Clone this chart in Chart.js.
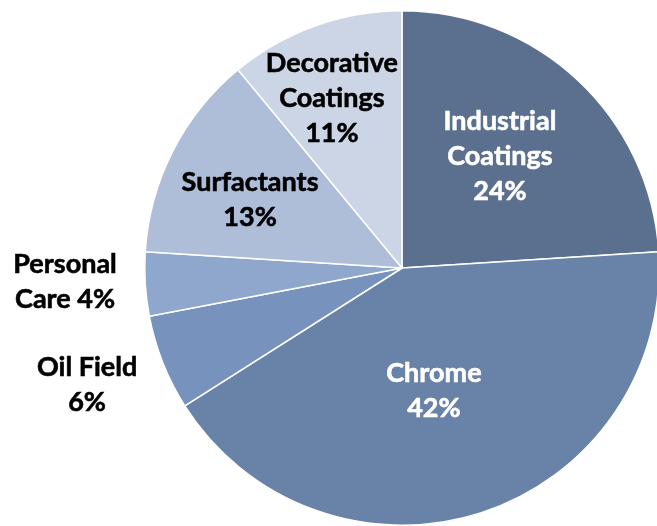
<!DOCTYPE html>
<html>
<head>
<meta charset="utf-8">
<title>Market share pie</title>
<script src="https://cdn.jsdelivr.net/npm/chart.js@4.4.1/dist/chart.umd.min.js"></script>
<style>
    html, body { margin: 0; padding: 0; background: #fff; overflow: hidden; }
    #wrap { width: 665px; height: 526px; }
</style>
</head>
<body>
<div id="wrap"><canvas id="pieChart" width="665" height="526"></canvas></div>
<script>
// Segments, clockwise from 12 o'clock
const categories = ['Industrial\nCoatings', 'Chrome', 'Oil Field', 'Personal\nCare', 'Surfactants', 'Decorative\nCoatings'];
const shares = [24, 42, 6, 4, 13, 11];
const sliceColors = ['#5b6f8e', '#6982a8', '#7692bd', '#8fa7cd', '#aebdd8', '#cbd5e6'];
const labelColors = ['#ffffff', '#ffffff', '#000000', '#000000', '#000000', '#000000'];

// label placement: fraction of radius along the slice mid-angle, plus a small angle nudge (deg)
const labelDist = [0.578, 0.492, 1.306, 1.311, 0.647, 0.715];
const labelNudge = [-2.0, 3.4, 1.2, 1.2, -2.9, -2.6];
// percent goes on the last name line instead of its own line
const inlinePct = [false, false, false, true, false, false];

const pieLabels = {
    id: 'pieLabels',
    afterDatasetsDraw(chart) {
        const ctx = chart.ctx;
        const meta = chart.getDatasetMeta(0);
        ctx.save();
        ctx.font = 'bold 27px Lato, "Liberation Sans", sans-serif';
        ctx.textAlign = 'center';
        ctx.textBaseline = 'middle';
        ctx.lineWidth = 0.6;
        const lineH = 35;
        meta.data.forEach((arc, i) => {
            const p = arc.getProps(['x', 'y', 'startAngle', 'endAngle', 'outerRadius'], true);
            const mid = (p.startAngle + p.endAngle) / 2 + labelNudge[i] * Math.PI / 180;
            const r = p.outerRadius * labelDist[i];
            const cx = p.x + Math.cos(mid) * r;
            const cy = p.y + Math.sin(mid) * r;

            let lines = categories[i].split('\n');
            const pct = shares[i] + '%';
            if (inlinePct[i]) {
                lines[lines.length - 1] += ' ' + pct;
            } else {
                lines.push(pct);
            }
            ctx.fillStyle = labelColors[i];
            ctx.strokeStyle = labelColors[i];
            const top = cy - (lines.length - 1) * lineH / 2;
            lines.forEach((line, k) => {
                ctx.fillText(line, cx, top + k * lineH);
                ctx.strokeText(line, cx, top + k * lineH);
            });
        });
        ctx.restore();
    }
};

const ctx = document.getElementById('pieChart').getContext('2d');
new Chart(ctx, {
    type: 'pie',
    data: {
        labels: categories.map(c => c.replace('\n', ' ')),
        datasets: [{
            data: shares,
            backgroundColor: sliceColors,
            borderColor: '#ffffff',
            borderWidth: 1.5,
            hoverOffset: 0
        }]
    },
    options: {
        responsive: false,
        animation: false,
        layout: {
            padding: { left: 144, right: 5, top: 10, bottom: 0 }
        },
        plugins: {
            legend: { display: false },
            tooltip: { enabled: false }
        }
    },
    plugins: [pieLabels]
});
</script>
</body>
</html>
